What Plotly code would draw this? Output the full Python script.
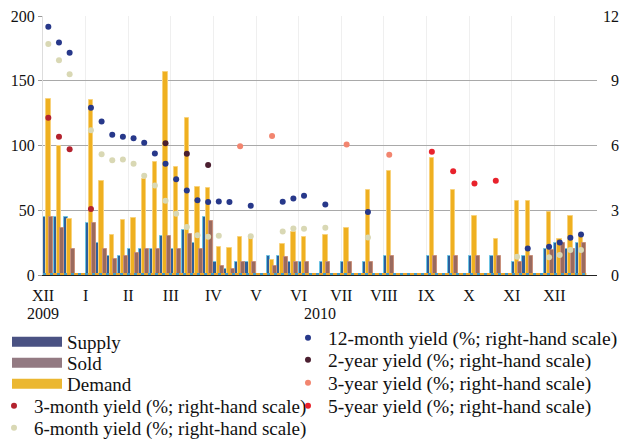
import plotly.graph_objects as go

# ---------------- data ----------------
month_labels = ["XII", "I", "II", "III", "IV", "V", "VI", "VII", "VIII", "IX", "X", "XI", "XII"]
year_labels = ["2009", "2010"]
weeks = list(range(52))  # 4 slots per month, XII 2009 .. XII 2010

supply = [45, 45, 45, None, 40, 25, 15, 15, 20, 20, 20, 30, 20, 35, 25, 45,
          10, 5, 10, 10, None, 15, 15, 10, 10, None, 10, None, 10, None, 10, None,
          15, None, None, None, 15, None, 15, None, 15, None, 15, None,
          10, 15, None, 20, 25, 20, 25, None]
sold = [45, 36, 20, None, 40, 20, 12, 15, 17, 20, 20, 30, 20, 32, 20, 42,
        7, 5, 10, 10, None, 7, 14, 10, 10, None, 10, None, 10, None, 10, None,
        15, None, None, None, 15, None, 15, None, 15, None, 15, None,
        10, 15, None, 19, 25, 20, 25, None]
demand = [136, 100, 43.5, None, 135, 72.6, 30.7, 42.5, 44, 73.9, 87.3, 156.8, 83.6, 121.2, 67.7, 67,
          21.4, 20.6, 29.6, 28.8, None, 11.3, 24.2, 33.2, 29.6, None, 31.1, None, 36.5, None, 65.6, None,
          80.4, None, None, None, 90.1, None, 65.6, None, 45.6, None, 27.8, None,
          57.1, 57.1, None, 48.9, 27.5, 45.8, 30.9, None]

x_3m = [0, 1, 2, 4]
y_3m = [7.28, 6.4, 5.83, 3.06]
x_6m = [0, 1, 2, 4, 5, 6, 7, 8, 9, 10, 11, 12, 13, 14, 15, 16, 19, 22, 23, 24, 26, 30, 44, 47, 48, 49, 50]
y_6m = [10.7, 9.95, 9.3, 6.71, 5.6, 5.32, 5.35, 5.15, 4.6, 4.15, 3.44, 2.84, 2.22, 1.84, 1.77, 1.82,
        1.8, 2.02, 2.16, 2.14, 2.19, 1.74, 0.85, 0.82, 0.93, 1.16, 1.16]
x_12m = [0, 1, 2, 4, 5, 6, 7, 8, 9, 10, 11, 12, 13, 14, 15, 16, 17, 19, 22, 23, 24, 26, 30, 45, 47, 48, 49, 50]
y_12m = [11.5, 10.77, 10.3, 7.75, 7.11, 6.5, 6.4, 6.34, 6.13, 5.63, 5.15, 4.44, 3.92, 3.46, 3.38, 3.41,
         3.38, 3.21, 3.39, 3.55, 3.67, 3.27, 2.92, 1.23, 1.31, 1.51, 1.73, 1.88]
x_2y = [11, 13, 15]
y_2y = [6.1, 5.62, 5.1]
x_3y = [18, 21, 28, 32]
y_3y = [5.97, 6.44, 6.05, 5.57]
x_5y = [36, 38, 40, 42]
y_5y = [5.71, 4.81, 4.24, 4.37]

# ---------------- figure ----------------
FONT = "Liberation Serif"
fig = go.Figure()

# bars (drawn, no legend)
fig.add_trace(go.Bar(x=weeks, y=supply, offset=-0.5, width=0.35, showlegend=False,
                     marker=dict(color="#2d5f9c", line=dict(color="#6cc3e4", width=1))))
fig.add_trace(go.Bar(x=weeks, y=demand, offset=-0.21, width=0.42, showlegend=False,
                     marker=dict(color="#efb020", line=dict(color="#f8d27c", width=1))))
fig.add_trace(go.Bar(x=weeks, y=sold, offset=0.1, width=0.38, showlegend=False,
                     marker=dict(color="#9a6a5e", line=dict(color="#c8907c", width=1))))

# zero baseline of the empty bars
base_x = [weeks[0] - 0.5, weeks[-1] - 0.5]
fig.add_trace(go.Scatter(x=base_x, y=[0, 0], mode="lines", showlegend=False, hoverinfo="skip",
                         line=dict(color="#eba52a", width=4)))
fig.add_trace(go.Scatter(x=base_x, y=[0, 0], mode="lines", showlegend=False, hoverinfo="skip",
                         line=dict(color="#3e9ccc", width=4, dash="3px,4px")))

# yields
yield_series = [
    ("3-month yield (%; right-hand scale)", x_3m, y_3m, "#b3222e", "legend4"),
    ("6-month yield (%; right-hand scale)", x_6m, y_6m, "#d9d8b4", "legend5"),
    ("12-month yield (%; right-hand scale)", x_12m, y_12m, "#27388a", "legend6"),
    ("2-year yield (%; right-hand scale)", x_2y, y_2y, "#4b1f30", "legend7"),
    ("3-year yield (%; right-hand scale)", x_3y, y_3y, "#f2856f", "legend8"),
    ("5-year yield (%; right-hand scale)", x_5y, y_5y, "#e8222c", "legend9"),
]
for name, xs, ys, col, lg in yield_series:
    fig.add_trace(go.Scatter(x=xs, y=ys, yaxis="y2", mode="markers", name=name, legend=lg,
                             marker=dict(color=col, size=6)))

# legend swatches for bars (wide colour bands)
for name, col, lg in [("Supply", "#4a5283", "legend"), ("Sold", "#937a82", "legend2"),
                      ("Demand", "#ebb731", "legend3")]:
    fig.add_trace(go.Scatter(x=[None], y=[None], name=name, legend=lg, mode="lines",
                             line=dict(color=col, width=16)))

month_ticks = [4 * k - 0.5 for k in range(len(month_labels))]

def lg(xpix, ypix, itemwidth=30, size=19):
    return dict(x=(xpix - 43) / 554, y=(275 - ypix) / 259, xref="paper", yref="paper",
                xanchor="left", yanchor="middle", bgcolor="rgba(0,0,0,0)", borderwidth=0,
                font=dict(family=FONT, size=size, color="#111"), itemwidth=itemwidth,
                tracegroupgap=0)

fig.update_layout(
    width=624, height=439,
    margin=dict(l=43, r=27, t=16, b=164, autoexpand=False),
    paper_bgcolor="white", plot_bgcolor="white",
    barmode="overlay", bargap=0,
    font=dict(family=FONT, size=16, color="#111"),
    xaxis=dict(range=[-0.5, 51.5], tickvals=month_ticks, ticktext=month_labels,
               showgrid=True, gridcolor="#efefef", gridwidth=1, zeroline=False,
               ticks="outside", ticklen=6, tickcolor="rgba(0,0,0,0)",
               showline=True, linecolor="#222", linewidth=1,
               tickfont=dict(family=FONT, size=16, color="#111")),
    yaxis=dict(range=[0, 200], tickvals=[0, 50, 100, 150, 200], showgrid=True,
               gridcolor="#a9a9a9", gridwidth=1, zeroline=False,
               ticks="outside", ticklen=4, tickcolor="#999",
               showline=True, linecolor="#dddddd", linewidth=1,
               tickfont=dict(family=FONT, size=16, color="#111")),
    yaxis2=dict(range=[0, 12], overlaying="y", side="right", tickvals=[0, 3, 6, 9, 12],
                ticktext=["\u20070", "\u20073", "\u20076", "\u20079", "12"],
                showgrid=False, zeroline=False, showline=False, ticklabelstandoff=5,
                tickfont=dict(family=FONT, size=16, color="#111")),
    legend=lg(7, 342, 50), legend2=lg(7, 363, 50), legend3=lg(7, 384, 50),
    legend4=lg(-6, 406), legend5=lg(-6, 428),
    legend6=lg(288, 338, 30, 19.5), legend7=lg(288, 360, 30, 19.5),
    legend8=lg(288, 383, 30, 19.5), legend9=lg(288, 406, 30, 19.5),
    annotations=[
        dict(x=month_ticks[0], y=(275 - 313) / 259, xref="x", yref="paper", text=year_labels[0],
             showarrow=False, font=dict(family=FONT, size=16, color="#111"), xanchor="center", yanchor="middle"),
        dict(x=(month_ticks[1] + month_ticks[-1]) / 2, y=(275 - 313) / 259, xref="x", yref="paper",
             text=year_labels[1], showarrow=False, font=dict(family=FONT, size=16, color="#111"),
             xanchor="center", yanchor="middle"),
    ],
)

fig.write_html("out.html", config={"displayModeBar": False},
               post_script="document.body.style.margin='0px';")
